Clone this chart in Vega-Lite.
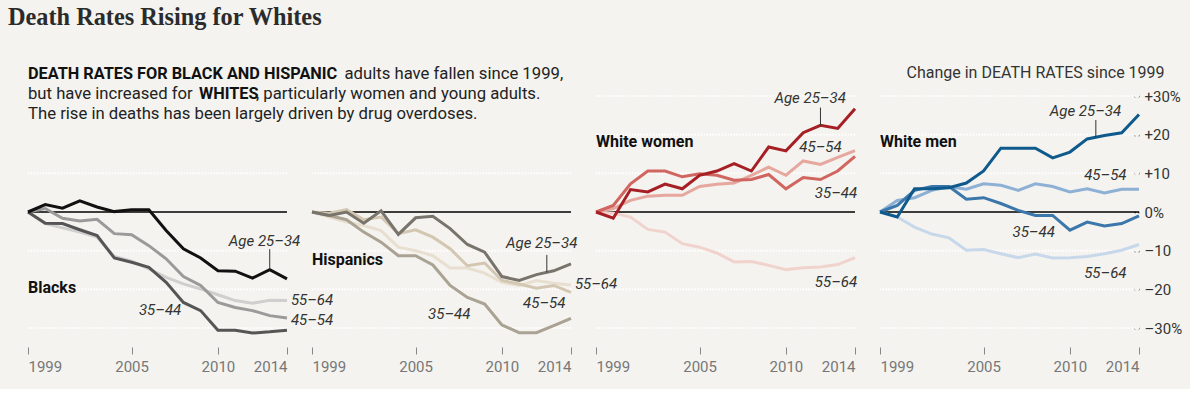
{
  "$schema": "https://vega.github.io/schema/vega-lite/v6.json",
  "background": "#f4f3ef",
  "padding": {"left": 0, "top": 0, "right": 8, "bottom": 15},
  "bounds": "flush",
  "spacing": 60,
  "config": {"view": {"stroke": null}, "font": "Roboto"},
  "datasets": {
    "title": [{"text": "Death Rates Rising for Whites"}],
    "gridA": [{"v": -30}, {"v": -20}, {"v": -10}, {"v": 10}],
    "gridB": [{"v": -30}, {"v": -20}, {"v": -10}, {"v": 10}, {"v": 20}, {"v": 30}],
    "rates": [
      {"panel":"Blacks","age":"55–64","year":1999,"value":0},{"panel":"Blacks","age":"55–64","year":2000,"value":-3.0},{"panel":"Blacks","age":"55–64","year":2001,"value":-4.1},{"panel":"Blacks","age":"55–64","year":2002,"value":-5.2},{"panel":"Blacks","age":"55–64","year":2003,"value":-6.5},{"panel":"Blacks","age":"55–64","year":2004,"value":-11.5},{"panel":"Blacks","age":"55–64","year":2005,"value":-12.7},{"panel":"Blacks","age":"55–64","year":2006,"value":-14.7},{"panel":"Blacks","age":"55–64","year":2007,"value":-16.9},{"panel":"Blacks","age":"55–64","year":2008,"value":-18.6},{"panel":"Blacks","age":"55–64","year":2009,"value":-19.9},{"panel":"Blacks","age":"55–64","year":2010,"value":-21.4},{"panel":"Blacks","age":"55–64","year":2011,"value":-22.9},{"panel":"Blacks","age":"55–64","year":2012,"value":-23.6},{"panel":"Blacks","age":"55–64","year":2013,"value":-22.8},{"panel":"Blacks","age":"55–64","year":2014,"value":-22.9},
      {"panel":"Blacks","age":"45–54","year":1999,"value":0},{"panel":"Blacks","age":"45–54","year":2000,"value":0.9},{"panel":"Blacks","age":"45–54","year":2001,"value":-1.6},{"panel":"Blacks","age":"45–54","year":2002,"value":-2.3},{"panel":"Blacks","age":"45–54","year":2003,"value":-1.9},{"panel":"Blacks","age":"45–54","year":2004,"value":-5.6},{"panel":"Blacks","age":"45–54","year":2005,"value":-5.9},{"panel":"Blacks","age":"45–54","year":2006,"value":-8.7},{"panel":"Blacks","age":"45–54","year":2007,"value":-12.1},{"panel":"Blacks","age":"45–54","year":2008,"value":-16.7},{"panel":"Blacks","age":"45–54","year":2009,"value":-19.0},{"panel":"Blacks","age":"45–54","year":2010,"value":-23.4},{"panel":"Blacks","age":"45–54","year":2011,"value":-24.7},{"panel":"Blacks","age":"45–54","year":2012,"value":-25.5},{"panel":"Blacks","age":"45–54","year":2013,"value":-26.8},{"panel":"Blacks","age":"45–54","year":2014,"value":-27.4},
      {"panel":"Blacks","age":"35–44","year":1999,"value":0},{"panel":"Blacks","age":"35–44","year":2000,"value":-2.9},{"panel":"Blacks","age":"35–44","year":2001,"value":-3.0},{"panel":"Blacks","age":"35–44","year":2002,"value":-4.6},{"panel":"Blacks","age":"35–44","year":2003,"value":-6.1},{"panel":"Blacks","age":"35–44","year":2004,"value":-11.9},{"panel":"Blacks","age":"35–44","year":2005,"value":-13.0},{"panel":"Blacks","age":"35–44","year":2006,"value":-14.3},{"panel":"Blacks","age":"35–44","year":2007,"value":-18.2},{"panel":"Blacks","age":"35–44","year":2008,"value":-23.4},{"panel":"Blacks","age":"35–44","year":2009,"value":-25.5},{"panel":"Blacks","age":"35–44","year":2010,"value":-30.6},{"panel":"Blacks","age":"35–44","year":2011,"value":-30.6},{"panel":"Blacks","age":"35–44","year":2012,"value":-31.3},{"panel":"Blacks","age":"35–44","year":2013,"value":-31.0},{"panel":"Blacks","age":"35–44","year":2014,"value":-30.6},
      {"panel":"Blacks","age":"25–34","year":1999,"value":0},{"panel":"Blacks","age":"25–34","year":2000,"value":1.9},{"panel":"Blacks","age":"25–34","year":2001,"value":1.0},{"panel":"Blacks","age":"25–34","year":2002,"value":2.9},{"panel":"Blacks","age":"25–34","year":2003,"value":1.3},{"panel":"Blacks","age":"25–34","year":2004,"value":0.1},{"panel":"Blacks","age":"25–34","year":2005,"value":0.6},{"panel":"Blacks","age":"25–34","year":2006,"value":0.6},{"panel":"Blacks","age":"25–34","year":2007,"value":-4.8},{"panel":"Blacks","age":"25–34","year":2008,"value":-9.5},{"panel":"Blacks","age":"25–34","year":2009,"value":-11.9},{"panel":"Blacks","age":"25–34","year":2010,"value":-15.2},{"panel":"Blacks","age":"25–34","year":2011,"value":-15.3},{"panel":"Blacks","age":"25–34","year":2012,"value":-17.1},{"panel":"Blacks","age":"25–34","year":2013,"value":-14.9},{"panel":"Blacks","age":"25–34","year":2014,"value":-17.3},

      {"panel":"Hispanics","age":"55–64","year":1999,"value":0},{"panel":"Hispanics","age":"55–64","year":2000,"value":-1.3},{"panel":"Hispanics","age":"55–64","year":2001,"value":-2.6},{"panel":"Hispanics","age":"55–64","year":2002,"value":-3.5},{"panel":"Hispanics","age":"55–64","year":2003,"value":-4.8},{"panel":"Hispanics","age":"55–64","year":2004,"value":-9.1},{"panel":"Hispanics","age":"55–64","year":2005,"value":-10.0},{"panel":"Hispanics","age":"55–64","year":2006,"value":-11.3},{"panel":"Hispanics","age":"55–64","year":2007,"value":-14.5},{"panel":"Hispanics","age":"55–64","year":2008,"value":-14.5},{"panel":"Hispanics","age":"55–64","year":2009,"value":-15.8},{"panel":"Hispanics","age":"55–64","year":2010,"value":-18.2},{"panel":"Hispanics","age":"55–64","year":2011,"value":-19.0},{"panel":"Hispanics","age":"55–64","year":2012,"value":-17.7},{"panel":"Hispanics","age":"55–64","year":2013,"value":-18.4},{"panel":"Hispanics","age":"55–64","year":2014,"value":-18.9},
      {"panel":"Hispanics","age":"45–54","year":1999,"value":0},{"panel":"Hispanics","age":"45–54","year":2000,"value":-0.3},{"panel":"Hispanics","age":"45–54","year":2001,"value":0.6},{"panel":"Hispanics","age":"45–54","year":2002,"value":-2.0},{"panel":"Hispanics","age":"45–54","year":2003,"value":-1.3},{"panel":"Hispanics","age":"45–54","year":2004,"value":-5.6},{"panel":"Hispanics","age":"45–54","year":2005,"value":-4.6},{"panel":"Hispanics","age":"45–54","year":2006,"value":-6.5},{"panel":"Hispanics","age":"45–54","year":2007,"value":-9.5},{"panel":"Hispanics","age":"45–54","year":2008,"value":-13.9},{"panel":"Hispanics","age":"45–54","year":2009,"value":-13.2},{"panel":"Hispanics","age":"45–54","year":2010,"value":-17.7},{"panel":"Hispanics","age":"45–54","year":2011,"value":-18.6},{"panel":"Hispanics","age":"45–54","year":2012,"value":-19.7},{"panel":"Hispanics","age":"45–54","year":2013,"value":-19.0},{"panel":"Hispanics","age":"45–54","year":2014,"value":-20.8},
      {"panel":"Hispanics","age":"35–44","year":1999,"value":0},{"panel":"Hispanics","age":"35–44","year":2000,"value":-0.9},{"panel":"Hispanics","age":"35–44","year":2001,"value":-2.0},{"panel":"Hispanics","age":"35–44","year":2002,"value":-5.2},{"panel":"Hispanics","age":"35–44","year":2003,"value":-7.8},{"panel":"Hispanics","age":"35–44","year":2004,"value":-11.3},{"panel":"Hispanics","age":"35–44","year":2005,"value":-11.3},{"panel":"Hispanics","age":"35–44","year":2006,"value":-13.7},{"panel":"Hispanics","age":"35–44","year":2007,"value":-19.0},{"panel":"Hispanics","age":"35–44","year":2008,"value":-22.1},{"panel":"Hispanics","age":"35–44","year":2009,"value":-23.8},{"panel":"Hispanics","age":"35–44","year":2010,"value":-29.2},{"panel":"Hispanics","age":"35–44","year":2011,"value":-31.2},{"panel":"Hispanics","age":"35–44","year":2012,"value":-31.2},{"panel":"Hispanics","age":"35–44","year":2013,"value":-29.4},{"panel":"Hispanics","age":"35–44","year":2014,"value":-27.5},
      {"panel":"Hispanics","age":"25–34","year":1999,"value":0},{"panel":"Hispanics","age":"25–34","year":2000,"value":-0.9},{"panel":"Hispanics","age":"25–34","year":2001,"value":0},{"panel":"Hispanics","age":"25–34","year":2002,"value":-2.9},{"panel":"Hispanics","age":"25–34","year":2003,"value":0.3},{"panel":"Hispanics","age":"25–34","year":2004,"value":-5.8},{"panel":"Hispanics","age":"25–34","year":2005,"value":-1.5},{"panel":"Hispanics","age":"25–34","year":2006,"value":-1.1},{"panel":"Hispanics","age":"25–34","year":2007,"value":-4.3},{"panel":"Hispanics","age":"25–34","year":2008,"value":-8.4},{"panel":"Hispanics","age":"25–34","year":2009,"value":-10.4},{"panel":"Hispanics","age":"25–34","year":2010,"value":-16.7},{"panel":"Hispanics","age":"25–34","year":2011,"value":-17.7},{"panel":"Hispanics","age":"25–34","year":2012,"value":-16.2},{"panel":"Hispanics","age":"25–34","year":2013,"value":-15.2},{"panel":"Hispanics","age":"25–34","year":2014,"value":-13.4},

      {"panel":"White women","age":"55–64","year":1999,"value":0},{"panel":"White women","age":"55–64","year":2000,"value":-0.3},{"panel":"White women","age":"55–64","year":2001,"value":-1.3},{"panel":"White women","age":"55–64","year":2002,"value":-4.5},{"panel":"White women","age":"55–64","year":2003,"value":-5.2},{"panel":"White women","age":"55–64","year":2004,"value":-8.2},{"panel":"White women","age":"55–64","year":2005,"value":-9.1},{"panel":"White women","age":"55–64","year":2006,"value":-10.6},{"panel":"White women","age":"55–64","year":2007,"value":-12.9},{"panel":"White women","age":"55–64","year":2008,"value":-12.8},{"panel":"White women","age":"55–64","year":2009,"value":-13.8},{"panel":"White women","age":"55–64","year":2010,"value":-14.9},{"panel":"White women","age":"55–64","year":2011,"value":-14.4},{"panel":"White women","age":"55–64","year":2012,"value":-14.2},{"panel":"White women","age":"55–64","year":2013,"value":-13.6},{"panel":"White women","age":"55–64","year":2014,"value":-11.8},
      {"panel":"White women","age":"45–54","year":1999,"value":0},{"panel":"White women","age":"45–54","year":2000,"value":0.9},{"panel":"White women","age":"45–54","year":2001,"value":3.0},{"panel":"White women","age":"45–54","year":2002,"value":4.1},{"panel":"White women","age":"45–54","year":2003,"value":4.3},{"panel":"White women","age":"45–54","year":2004,"value":4.3},{"panel":"White women","age":"45–54","year":2005,"value":6.6},{"panel":"White women","age":"45–54","year":2006,"value":7.2},{"panel":"White women","age":"45–54","year":2007,"value":7.5},{"panel":"White women","age":"45–54","year":2008,"value":9.5},{"panel":"White women","age":"45–54","year":2009,"value":11.6},{"panel":"White women","age":"45–54","year":2010,"value":9.5},{"panel":"White women","age":"45–54","year":2011,"value":13.2},{"panel":"White women","age":"45–54","year":2012,"value":12.3},{"panel":"White women","age":"45–54","year":2013,"value":14.1},{"panel":"White women","age":"45–54","year":2014,"value":15.9},
      {"panel":"White women","age":"35–44","year":1999,"value":0},{"panel":"White women","age":"35–44","year":2000,"value":1.7},{"panel":"White women","age":"35–44","year":2001,"value":7.3},{"panel":"White women","age":"35–44","year":2002,"value":10.6},{"panel":"White women","age":"35–44","year":2003,"value":10.6},{"panel":"White women","age":"35–44","year":2004,"value":9.1},{"panel":"White women","age":"35–44","year":2005,"value":9.9},{"panel":"White women","age":"35–44","year":2006,"value":9.5},{"panel":"White women","age":"35–44","year":2007,"value":8.2},{"panel":"White women","age":"35–44","year":2008,"value":8.4},{"panel":"White women","age":"35–44","year":2009,"value":9.7},{"panel":"White women","age":"35–44","year":2010,"value":6.0},{"panel":"White women","age":"35–44","year":2011,"value":8.9},{"panel":"White women","age":"35–44","year":2012,"value":8.4},{"panel":"White women","age":"35–44","year":2013,"value":10.6},{"panel":"White women","age":"35–44","year":2014,"value":14.4},
      {"panel":"White women","age":"25–34","year":1999,"value":0},{"panel":"White women","age":"25–34","year":2000,"value":-1.6},{"panel":"White women","age":"25–34","year":2001,"value":5.8},{"panel":"White women","age":"25–34","year":2002,"value":5.2},{"panel":"White women","age":"25–34","year":2003,"value":7.2},{"panel":"White women","age":"25–34","year":2004,"value":6.0},{"panel":"White women","age":"25–34","year":2005,"value":9.5},{"panel":"White women","age":"25–34","year":2006,"value":10.6},{"panel":"White women","age":"25–34","year":2007,"value":12.5},{"panel":"White women","age":"25–34","year":2008,"value":10.6},{"panel":"White women","age":"25–34","year":2009,"value":16.8},{"panel":"White women","age":"25–34","year":2010,"value":15.8},{"panel":"White women","age":"25–34","year":2011,"value":20.5},{"panel":"White women","age":"25–34","year":2012,"value":22.4},{"panel":"White women","age":"25–34","year":2013,"value":21.6},{"panel":"White women","age":"25–34","year":2014,"value":26.7},

      {"panel":"White men","age":"55–64","year":1999,"value":0},{"panel":"White men","age":"55–64","year":2000,"value":-1.3},{"panel":"White men","age":"55–64","year":2001,"value":-3.9},{"panel":"White men","age":"55–64","year":2002,"value":-5.7},{"panel":"White men","age":"55–64","year":2003,"value":-6.7},{"panel":"White men","age":"55–64","year":2004,"value":-9.9},{"panel":"White men","age":"55–64","year":2005,"value":-9.7},{"panel":"White men","age":"55–64","year":2006,"value":-10.8},{"panel":"White men","age":"55–64","year":2007,"value":-11.8},{"panel":"White men","age":"55–64","year":2008,"value":-10.9},{"panel":"White men","age":"55–64","year":2009,"value":-11.9},{"panel":"White men","age":"55–64","year":2010,"value":-11.8},{"panel":"White men","age":"55–64","year":2011,"value":-11.5},{"panel":"White men","age":"55–64","year":2012,"value":-10.8},{"panel":"White men","age":"55–64","year":2013,"value":-9.9},{"panel":"White men","age":"55–64","year":2014,"value":-8.4},
      {"panel":"White men","age":"45–54","year":1999,"value":0},{"panel":"White men","age":"45–54","year":2000,"value":3.0},{"panel":"White men","age":"45–54","year":2001,"value":3.7},{"panel":"White men","age":"45–54","year":2002,"value":5.6},{"panel":"White men","age":"45–54","year":2003,"value":6.5},{"panel":"White men","age":"45–54","year":2004,"value":5.9},{"panel":"White men","age":"45–54","year":2005,"value":7.3},{"panel":"White men","age":"45–54","year":2006,"value":6.9},{"panel":"White men","age":"45–54","year":2007,"value":5.6},{"panel":"White men","age":"45–54","year":2008,"value":7.3},{"panel":"White men","age":"45–54","year":2009,"value":6.6},{"panel":"White men","age":"45–54","year":2010,"value":5.2},{"panel":"White men","age":"45–54","year":2011,"value":6.0},{"panel":"White men","age":"45–54","year":2012,"value":4.9},{"panel":"White men","age":"45–54","year":2013,"value":5.9},{"panel":"White men","age":"45–54","year":2014,"value":5.9},
      {"panel":"White men","age":"35–44","year":1999,"value":0},{"panel":"White men","age":"35–44","year":2000,"value":1.7},{"panel":"White men","age":"35–44","year":2001,"value":5.6},{"panel":"White men","age":"35–44","year":2002,"value":6.6},{"panel":"White men","age":"35–44","year":2003,"value":6.6},{"panel":"White men","age":"35–44","year":2004,"value":3.3},{"panel":"White men","age":"35–44","year":2005,"value":3.7},{"panel":"White men","age":"35–44","year":2006,"value":2.2},{"panel":"White men","age":"35–44","year":2007,"value":0.4},{"panel":"White men","age":"35–44","year":2008,"value":-0.9},{"panel":"White men","age":"35–44","year":2009,"value":-0.9},{"panel":"White men","age":"35–44","year":2010,"value":-4.7},{"panel":"White men","age":"35–44","year":2011,"value":-2.6},{"panel":"White men","age":"35–44","year":2012,"value":-3.6},{"panel":"White men","age":"35–44","year":2013,"value":-3.0},{"panel":"White men","age":"35–44","year":2014,"value":-1.0},
      {"panel":"White men","age":"25–34","year":1999,"value":0},{"panel":"White men","age":"25–34","year":2000,"value":-1.3},{"panel":"White men","age":"25–34","year":2001,"value":6.0},{"panel":"White men","age":"25–34","year":2002,"value":6.0},{"panel":"White men","age":"25–34","year":2003,"value":6.3},{"panel":"White men","age":"25–34","year":2004,"value":7.5},{"panel":"White men","age":"25–34","year":2005,"value":10.6},{"panel":"White men","age":"25–34","year":2006,"value":16.5},{"panel":"White men","age":"25–34","year":2007,"value":16.5},{"panel":"White men","age":"25–34","year":2008,"value":16.5},{"panel":"White men","age":"25–34","year":2009,"value":14.0},{"panel":"White men","age":"25–34","year":2010,"value":15.5},{"panel":"White men","age":"25–34","year":2011,"value":18.9},{"panel":"White men","age":"25–34","year":2012,"value":19.8},{"panel":"White men","age":"25–34","year":2013,"value":20.5},{"panel":"White men","age":"25–34","year":2014,"value":25.2}
    ],
    "labels": [
      {"panel":"Blacks","text":"Age 25–34","year":2012.7,"value":-7.5},
      {"panel":"Blacks","text":"55–64","year":2015.45,"value":-22.7},
      {"panel":"Blacks","text":"45–54","year":2015.45,"value":-27.9},
      {"panel":"Blacks","text":"35–44","year":2006.65,"value":-25.3},
      {"panel":"Hispanics","text":"Age 25–34","year":2012.3,"value":-7.9},
      {"panel":"Hispanics","text":"55–64","year":2015.45,"value":-18.6},
      {"panel":"Hispanics","text":"45–54","year":2012.45,"value":-23.5},
      {"panel":"Hispanics","text":"35–44","year":2006.95,"value":-26.4},
      {"panel":"White women","text":"Age 25–34","year":2011.4,"value":29.4},
      {"panel":"White women","text":"45–54","year":2012.0,"value":16.7},
      {"panel":"White women","text":"35–44","year":2012.9,"value":4.8},
      {"panel":"White women","text":"55–64","year":2012.9,"value":-18.0},
      {"panel":"White men","text":"Age 25–34","year":2010.9,"value":26.0},
      {"panel":"White men","text":"45–54","year":2012.05,"value":9.5},
      {"panel":"White men","text":"35–44","year":2007.9,"value":-5.1},
      {"panel":"White men","text":"55–64","year":2012.05,"value":-15.7}
    ],
    "leaders": [
      {"panel":"Blacks","year":2013,"from":-9.6,"to":-14.9},
      {"panel":"Hispanics","year":2012.6,"from":-11.1,"to":-15.6},
      {"panel":"White women","year":2012,"from":27.0,"to":22.4},
      {"panel":"White men","year":2011.5,"from":23.8,"to":19.35}
    ],
    "names": [
      {"panel":"Blacks","text":"Blacks","year":1999,"value":-19.6},
      {"panel":"Hispanics","text":"Hispanics","year":1999,"value":-12.4},
      {"panel":"White women","text":"White women","year":1999,"value":18.0},
      {"panel":"White men","text":"White men","year":1999,"value":18.0}
    ],
    "notesBold": [
      {"text":"DEATH RATES FOR BLACK AND HISPANIC","year":1999,"value":35.6},
      {"text":"WHITES","year":2008.9,"value":30.5}
    ],
    "notesRegular": [
      {"text":"adults have fallen since 1999,","year":2017.33,"value":35.6},
      {"text":"but have increased for","year":1999,"value":30.5},
      {"text":", particularly women and young adults.","year":2012.2,"value":30.5},
      {"text":"The rise in deaths has been largely driven by drug overdoses.","year":1999,"value":25.45}
    ],
    "axisNote": [
      {"text":"Change in DEATH RATES since 1999","year":2015.48,"value":35.9}
    ]
  },
  "vconcat": [
    {
      "width": 16, "height": 36,
      "data": {"name": "title"},
      "mark": {"type": "text", "align": "left", "baseline": "middle", "font": "Liberation Serif", "fontSize": 24.3, "fontWeight": "bold", "color": "#2b2b2b"},
      "encoding": {"text": {"field": "text"}}
    },
    {
      "bounds": "flush",
      "spacing": 25,
      "resolve": {"scale": {"x": "independent", "y": "independent", "color": "independent"}},
      "hconcat": [
        {"width": 3, "height": 232, "data": {"values": [{}]}, "mark": {"type": "point", "opacity": 0, "size": 0}},
        {
          "width": 259, "height": 232,
          "layer": [
            {"data": {"name": "gridA"}, "mark": {"type": "rule", "color": "#ffffff", "strokeWidth": 2, "strokeDash": [1.5, 1.5]},
             "encoding": {"y": {"field": "v", "type": "quantitative", "axis": null}}},
            {"data": {"values": [{}]}, "mark": {"type": "rule", "color": "#000000", "strokeWidth": 1.3},
             "encoding": {"x": {"datum": 1999, "type": "quantitative"}, "x2": {"datum": 2014}, "y": {"datum": 0, "type": "quantitative", "axis": null}}},
            {"data": {"name": "rates"}, "transform": [{"filter": "datum.panel === 'Blacks'"}],
             "mark": {"type": "line", "strokeWidth": 3},
             "encoding": {
               "x": {"field": "year", "type": "quantitative", "scale": {"domain": [1999, 2014], "nice": false, "zero": false},
                     "axis": {"values": [1999, 2005, 2010, 2014], "tickCount": 20, "format": "d", "title": null, "grid": false, "domain": false, "ticks": true, "tickColor": "#888888", "tickSize": 7, "tickWidth": 1, "offset": 19, "labelFont": "Roboto", "labelFontSize": 15, "labelColor": "#777777", "labelFlush": true, "labelPadding": 5}},
               "y": {"field": "value", "type": "quantitative", "scale": {"domain": [-30, 30], "nice": false, "zero": false}, "axis": null},
               "color": {"field": "age", "type": "nominal", "scale": {"domain": ["25–34", "35–44", "45–54", "55–64"], "range": ["#111111", "#555555", "#9a9a9a", "#cfcfcf"]}, "legend": null}
             }},
            {"data": {"name": "leaders"}, "transform": [{"filter": "datum.panel === 'Blacks'"}],
             "mark": {"type": "rule", "color": "#333333", "strokeWidth": 1},
             "encoding": {"x": {"field": "year", "type": "quantitative"}, "y": {"field": "from", "type": "quantitative", "axis": null}, "y2": {"field": "to"}}},
            {"data": {"name": "labels"}, "transform": [{"filter": "datum.panel === 'Blacks'"}],
             "mark": {"type": "text", "font": "Roboto", "fontStyle": "italic", "fontSize": 15, "color": "#333333", "baseline": "middle"},
             "encoding": {"x": {"field": "year", "type": "quantitative"}, "y": {"field": "value", "type": "quantitative", "axis": null}, "text": {"field": "text"}}},
            {"data": {"name": "names"}, "transform": [{"filter": "datum.panel === 'Blacks'"}],
             "mark": {"type": "text", "font": "Roboto", "fontWeight": "bold", "fontSize": 16, "color": "#111111", "align": "left", "baseline": "middle"},
             "encoding": {"x": {"field": "year", "type": "quantitative"}, "y": {"field": "value", "type": "quantitative", "axis": null}, "text": {"field": "text"}}},
            {"data": {"name": "notesBold"},
             "mark": {"type": "text", "font": "Roboto", "fontWeight": "bold", "fontSize": 16.3, "color": "#111111", "align": "left", "baseline": "middle"},
             "encoding": {"x": {"field": "year", "type": "quantitative"}, "y": {"field": "value", "type": "quantitative", "axis": null}, "text": {"field": "text"}}},
            {"data": {"name": "notesRegular"},
             "mark": {"type": "text", "font": "Roboto", "fontSize": 16.7, "color": "#222222", "align": "left", "baseline": "middle"},
             "encoding": {"x": {"field": "year", "type": "quantitative"}, "y": {"field": "value", "type": "quantitative", "axis": null}, "text": {"field": "text"}}}
          ]
        },
        {
          "width": 259, "height": 232,
          "layer": [
            {"data": {"name": "gridA"}, "mark": {"type": "rule", "color": "#ffffff", "strokeWidth": 2, "strokeDash": [1.5, 1.5]},
             "encoding": {"y": {"field": "v", "type": "quantitative", "axis": null}}},
            {"data": {"values": [{}]}, "mark": {"type": "rule", "color": "#000000", "strokeWidth": 1.3},
             "encoding": {"x": {"datum": 1999, "type": "quantitative"}, "x2": {"datum": 2014}, "y": {"datum": 0, "type": "quantitative", "axis": null}}},
            {"data": {"name": "rates"}, "transform": [{"filter": "datum.panel === 'Hispanics'"}],
             "mark": {"type": "line", "strokeWidth": 3},
             "encoding": {
               "x": {"field": "year", "type": "quantitative", "scale": {"domain": [1999, 2014], "nice": false, "zero": false},
                     "axis": {"values": [1999, 2005, 2010, 2014], "tickCount": 20, "format": "d", "title": null, "grid": false, "domain": false, "ticks": true, "tickColor": "#888888", "tickSize": 7, "tickWidth": 1, "offset": 19, "labelFont": "Roboto", "labelFontSize": 15, "labelColor": "#777777", "labelFlush": true, "labelPadding": 5}},
               "y": {"field": "value", "type": "quantitative", "scale": {"domain": [-30, 30], "nice": false, "zero": false}, "axis": null},
               "color": {"field": "age", "type": "nominal", "scale": {"domain": ["25–34", "35–44", "45–54", "55–64"], "range": ["#78736b", "#aaa292", "#d4c7b2", "#e9dfd0"]}, "legend": null}
             }},
            {"data": {"name": "leaders"}, "transform": [{"filter": "datum.panel === 'Hispanics'"}],
             "mark": {"type": "rule", "color": "#333333", "strokeWidth": 1},
             "encoding": {"x": {"field": "year", "type": "quantitative"}, "y": {"field": "from", "type": "quantitative", "axis": null}, "y2": {"field": "to"}}},
            {"data": {"name": "labels"}, "transform": [{"filter": "datum.panel === 'Hispanics'"}],
             "mark": {"type": "text", "font": "Roboto", "fontStyle": "italic", "fontSize": 15, "color": "#333333", "baseline": "middle"},
             "encoding": {"x": {"field": "year", "type": "quantitative"}, "y": {"field": "value", "type": "quantitative", "axis": null}, "text": {"field": "text"}}},
            {"data": {"name": "names"}, "transform": [{"filter": "datum.panel === 'Hispanics'"}],
             "mark": {"type": "text", "font": "Roboto", "fontWeight": "bold", "fontSize": 16, "color": "#111111", "align": "left", "baseline": "middle"},
             "encoding": {"x": {"field": "year", "type": "quantitative"}, "y": {"field": "value", "type": "quantitative", "axis": null}, "text": {"field": "text"}}}
          ]
        },
        {
          "width": 259, "height": 232,
          "layer": [
            {"data": {"name": "gridB"}, "mark": {"type": "rule", "color": "#ffffff", "strokeWidth": 2, "strokeDash": [1.5, 1.5]},
             "encoding": {"y": {"field": "v", "type": "quantitative", "axis": null}}},
            {"data": {"values": [{}]}, "mark": {"type": "rule", "color": "#000000", "strokeWidth": 1.3},
             "encoding": {"x": {"datum": 1999, "type": "quantitative"}, "x2": {"datum": 2014}, "y": {"datum": 0, "type": "quantitative", "axis": null}}},
            {"data": {"name": "rates"}, "transform": [{"filter": "datum.panel === 'White women'"}],
             "mark": {"type": "line", "strokeWidth": 3},
             "encoding": {
               "x": {"field": "year", "type": "quantitative", "scale": {"domain": [1999, 2014], "nice": false, "zero": false},
                     "axis": {"values": [1999, 2005, 2010, 2014], "tickCount": 20, "format": "d", "title": null, "grid": false, "domain": false, "ticks": true, "tickColor": "#888888", "tickSize": 7, "tickWidth": 1, "offset": 19, "labelFont": "Roboto", "labelFontSize": 15, "labelColor": "#777777", "labelFlush": true, "labelPadding": 5}},
               "y": {"field": "value", "type": "quantitative", "scale": {"domain": [-30, 30], "nice": false, "zero": false}, "axis": null},
               "color": {"field": "age", "type": "nominal", "scale": {"domain": ["25–34", "35–44", "45–54", "55–64"], "range": ["#a51f24", "#d0665f", "#e6a79e", "#f1d3cd"]}, "legend": null}
             }},
            {"data": {"name": "leaders"}, "transform": [{"filter": "datum.panel === 'White women'"}],
             "mark": {"type": "rule", "color": "#333333", "strokeWidth": 1},
             "encoding": {"x": {"field": "year", "type": "quantitative"}, "y": {"field": "from", "type": "quantitative", "axis": null}, "y2": {"field": "to"}}},
            {"data": {"name": "labels"}, "transform": [{"filter": "datum.panel === 'White women'"}],
             "mark": {"type": "text", "font": "Roboto", "fontStyle": "italic", "fontSize": 15, "color": "#333333", "baseline": "middle"},
             "encoding": {"x": {"field": "year", "type": "quantitative"}, "y": {"field": "value", "type": "quantitative", "axis": null}, "text": {"field": "text"}}},
            {"data": {"name": "names"}, "transform": [{"filter": "datum.panel === 'White women'"}],
             "mark": {"type": "text", "font": "Roboto", "fontWeight": "bold", "fontSize": 16, "color": "#111111", "align": "left", "baseline": "middle"},
             "encoding": {"x": {"field": "year", "type": "quantitative"}, "y": {"field": "value", "type": "quantitative", "axis": null}, "text": {"field": "text"}}}
          ]
        },
        {
          "width": 259, "height": 232,
          "layer": [
            {"data": {"name": "gridB"}, "mark": {"type": "rule", "color": "#ffffff", "strokeWidth": 2, "strokeDash": [1.5, 1.5]},
             "encoding": {"y": {"field": "v", "type": "quantitative"}}},
            {"data": {"values": [{}]}, "mark": {"type": "rule", "color": "#000000", "strokeWidth": 1.3},
             "encoding": {"x": {"datum": 1999, "type": "quantitative"}, "x2": {"datum": 2014}, "y": {"datum": 0, "type": "quantitative"}}},
            {"data": {"name": "rates"}, "transform": [{"filter": "datum.panel === 'White men'"}],
             "mark": {"type": "line", "strokeWidth": 3},
             "encoding": {
               "x": {"field": "year", "type": "quantitative", "scale": {"domain": [1999, 2014], "nice": false, "zero": false},
                     "axis": {"values": [1999, 2005, 2010, 2014], "tickCount": 20, "format": "d", "title": null, "grid": false, "domain": false, "ticks": true, "tickColor": "#888888", "tickSize": 7, "tickWidth": 1, "offset": 19, "labelFont": "Roboto", "labelFontSize": 15, "labelColor": "#777777", "labelFlush": true, "labelPadding": 5}},
               "y": {"field": "value", "type": "quantitative", "scale": {"domain": [-30, 30], "nice": false, "zero": false},
                     "axis": {"orient": "right", "values": [-30, -20, -10, 0, 10, 20, 30], "tickCount": 20, "title": null, "grid": false, "domain": false, "ticks": true, "offset": -5, "tickSize": 5, "tickColor": "#444444", "tickDash": [1.5, 2], "tickWidth": 1.5,
                              "labelFont": "Roboto", "labelFontSize": 15, "labelColor": "#333333", "labelPadding": 5, "labelOverlap": false, "labelBound": false,
                              "labelExpr": "datum.value === 30 ? '+30%' : datum.value === -30 ? '–30%' : datum.value === 0 ? '0%' : datum.value > 0 ? '+' + datum.value : '–' + abs(datum.value)"}},
               "color": {"field": "age", "type": "nominal", "scale": {"domain": ["25–34", "35–44", "45–54", "55–64"], "range": ["#0f5a8c", "#3b77aa", "#8db0d4", "#c8d8eb"]}, "legend": null}
             }},
            {"data": {"name": "leaders"}, "transform": [{"filter": "datum.panel === 'White men'"}],
             "mark": {"type": "rule", "color": "#333333", "strokeWidth": 1},
             "encoding": {"x": {"field": "year", "type": "quantitative"}, "y": {"field": "from", "type": "quantitative"}, "y2": {"field": "to"}}},
            {"data": {"name": "labels"}, "transform": [{"filter": "datum.panel === 'White men'"}],
             "mark": {"type": "text", "font": "Roboto", "fontStyle": "italic", "fontSize": 15, "color": "#333333", "baseline": "middle"},
             "encoding": {"x": {"field": "year", "type": "quantitative"}, "y": {"field": "value", "type": "quantitative"}, "text": {"field": "text"}}},
            {"data": {"name": "names"}, "transform": [{"filter": "datum.panel === 'White men'"}],
             "mark": {"type": "text", "font": "Roboto", "fontWeight": "bold", "fontSize": 16, "color": "#111111", "align": "left", "baseline": "middle"},
             "encoding": {"x": {"field": "year", "type": "quantitative"}, "y": {"field": "value", "type": "quantitative"}, "text": {"field": "text"}}},
            {"data": {"name": "axisNote"},
             "mark": {"type": "text", "font": "Roboto", "fontSize": 16, "color": "#333333", "align": "right", "baseline": "middle"},
             "encoding": {"x": {"field": "year", "type": "quantitative"}, "y": {"field": "value", "type": "quantitative"}, "text": {"field": "text"}}}
          ]
        }
      ]
    }
  ]
}
